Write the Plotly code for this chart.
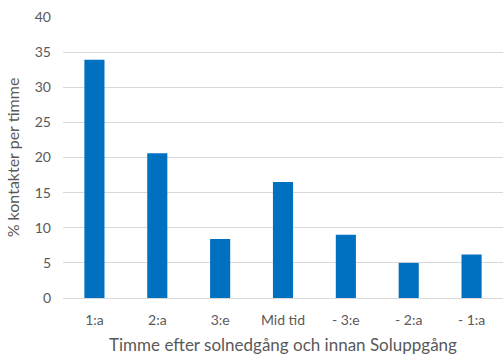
import plotly.graph_objects as go

categories = ["1:a", "2:a", "3:e", "Mid tid", "- 3:e", "- 2:a", "- 1:a"]
values = [33.9, 20.6, 8.4, 16.5, 9.0, 5.0, 6.2]
y_ticks = [0, 5, 10, 15, 20, 25, 30, 35, 40]

font_family = "Lato, 'Open Sans', sans-serif"
text_color = "#595959"
grid_color = "#d9d9d9"

fig = go.Figure(
    go.Bar(
        x=categories,
        y=values,
        marker=dict(color="#0070c0", line=dict(width=0)),
        width=0.32,
    )
)

fig.update_layout(
    width=503,
    height=355,
    margin=dict(l=63, r=0, t=17, b=57),
    plot_bgcolor="white",
    paper_bgcolor="white",
    showlegend=False,
    font=dict(family=font_family, size=14, color=text_color),
    xaxis=dict(
        title=dict(text="Timme efter solnedgång och innan Soluppgång",
                   font=dict(size=17, color=text_color), standoff=13),
        showgrid=False,
        showline=True,
        linecolor=grid_color,
        linewidth=1,
        ticks="",
        tickfont=dict(size=14, color=text_color),
        ticklabelstandoff=9,
        automargin=False,
    ),
    yaxis=dict(
        title=dict(text="% kontakter per timme",
                   font=dict(size=16, color=text_color), standoff=11),
        range=[0, 40],
        tickvals=y_ticks,
        showgrid=True,
        gridcolor=grid_color,
        gridwidth=1,
        zeroline=False,
        ticks="",
        tickfont=dict(size=14, color=text_color),
        ticklabelstandoff=11,
        automargin=False,
    ),
)

fig.write_html("out.html")
